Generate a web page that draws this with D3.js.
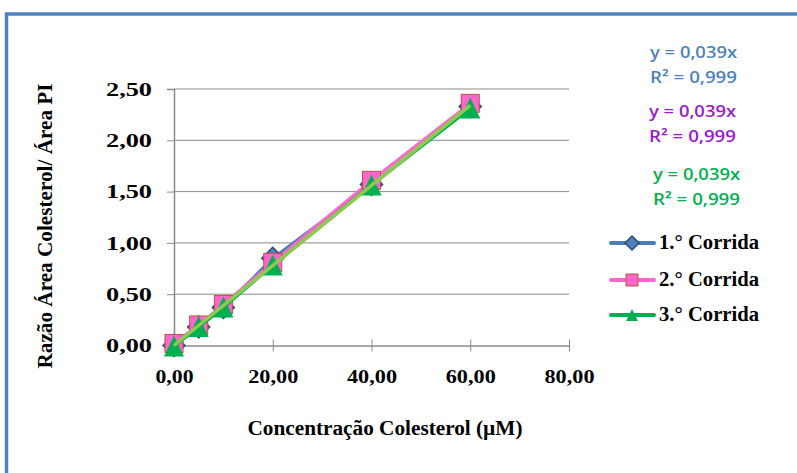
<!DOCTYPE html>
<html>
<head>
<meta charset="utf-8">
<script src="https://cdn.jsdelivr.net/npm/d3@7"></script>
<style>
  body { margin: 0; background: #fff; }
</style>
</head>
<body>
<div id="chart"></div>
<script>
// values
const concentrations = [0, 5, 10, 20, 40, 60];
const run1 = [0.00, 0.18, 0.37, 0.85, 1.57, 2.33];
const run2 = [0.02, 0.20, 0.40, 0.81, 1.61, 2.36];
const run3 = [-0.01, 0.18, 0.37, 0.78, 1.56, 2.31];
const seriesNames = ["1.° Corrida", "2.° Corrida", "3.° Corrida"];
const slope = 0.039;
const xTicks = [0, 20, 40, 60, 80];
const yTicks = [0, 0.5, 1, 1.5, 2, 2.5];
const equations = [
  {eq: "y = 0,039x", r2: "R² = 0,999", color: "#4F81BD"},
  {eq: "y = 0,039x", r2: "R² = 0,999", color: "#9A1ACC"},
  {eq: "y = 0,039x", r2: "R² = 0,999", color: "#00B050"}
];

const width = 797, height = 473;
const svg = d3.select("#chart").append("svg")
  .attr("width", width).attr("height", height);

// outer frame (only top and left show)
svg.append("rect")
  .attr("x", 6.5).attr("y", 14).attr("width", 900).attr("height", 600)
  .attr("fill", "none").attr("stroke", "#4F81BD").attr("stroke-width", 3.5);

const x = d3.scaleLinear().domain([0, 80]).range([174, 569]);
const y = d3.scaleLinear().domain([0, 2.5]).range([345.5, 89]);

const serif = "'Times New Roman', 'Liberation Serif', Tinos, serif";

// gridlines
svg.append("g").selectAll("line").data(yTicks.slice(1)).enter().append("line")
  .attr("x1", x(0)).attr("x2", x(80))
  .attr("y1", d => y(d)).attr("y2", d => y(d))
  .attr("stroke", "#8a8a8a").attr("stroke-width", 1);

// y axis
const fmt = d => d3.format(".2f")(d).replace(".", ",");
const yAxis = svg.append("g").attr("transform", `translate(${x(0)},0)`)
  .call(d3.axisLeft(y).tickValues(yTicks).tickSize(7).tickFormat(fmt));
yAxis.select(".domain").attr("stroke", "#8a8a8a").attr("stroke-width", 1.5);
yAxis.selectAll(".tick line").attr("stroke", "#8a8a8a");
yAxis.selectAll("text")
  .attr("x", -22).attr("dy", "0.35em")
  .attr("font-family", serif).attr("font-weight", "bold").attr("font-size", 18)
  .attr("fill", "#000")
  .attr("textLength", 46).attr("lengthAdjust", "spacingAndGlyphs");

// x axis
const xAxis = svg.append("g").attr("transform", `translate(0,${y(0)})`)
  .call(d3.axisBottom(x).tickValues(xTicks).tickSizeInner(6).tickSizeOuter(0).tickFormat(fmt));
xAxis.select(".domain").attr("stroke", "#8a8a8a").attr("stroke-width", 1.5);
xAxis.selectAll(".tick line").attr("y1", -6).attr("y2", 6).attr("stroke", "#8a8a8a");
xAxis.selectAll("text")
  .attr("y", 37).attr("dy", 0)
  .attr("font-family", serif).attr("font-weight", "bold").attr("font-size", 18)
  .attr("fill", "#000")
  .attr("textLength", d => d === 0 ? 38 : 50).attr("lengthAdjust", "spacingAndGlyphs");

// axis titles
svg.append("text")
  .attr("transform", `translate(52,226) rotate(-90)`)
  .attr("text-anchor", "middle")
  .attr("font-family", serif).attr("font-weight", "bold").attr("font-size", 20)
  .attr("textLength", 285).attr("lengthAdjust", "spacingAndGlyphs")
  .text("Razão Área Colesterol/ Área PI");

svg.append("text")
  .attr("x", 385).attr("y", 435)
  .attr("text-anchor", "middle")
  .attr("font-family", serif).attr("font-weight", "bold").attr("font-size", 20)
  .attr("textLength", 275).attr("lengthAdjust", "spacingAndGlyphs")
  .text("Concentração Colesterol (µM)");

// series
const series = [
  {name: seriesNames[0], values: run1, line: "#4A7EBB", fill: "#4F81BD", stroke: "#2C4D75", shape: d3.symbolDiamond},
  {name: seriesNames[1], values: run2, line: "#FF66CC", fill: "#FF66CC", stroke: "#C0504D", shape: d3.symbolSquare},
  {name: seriesNames[2], values: run3, line: "#00B050", fill: "#00B050", stroke: "#00B050", shape: d3.symbolTriangle}
];

const line = d3.line().x(d => x(d[0])).y(d => y(d[1]));

function marker(g, s, cx, cy) {
  if (s.shape === d3.symbolDiamond) {
    g.append("path")
      .attr("d", `M${cx},${cy - 11}L${cx + 11},${cy}L${cx},${cy + 11}L${cx - 11},${cy}Z`)
      .attr("fill", s.fill).attr("stroke", s.stroke).attr("stroke-width", 1.5);
  } else if (s.shape === d3.symbolSquare) {
    g.append("rect")
      .attr("x", cx - 9).attr("y", cy - 9).attr("width", 18).attr("height", 18)
      .attr("fill", s.fill).attr("stroke", s.stroke).attr("stroke-width", 1);
  } else {
    g.append("path")
      .attr("d", `M${cx},${cy - 11}L${cx + 10},${cy + 10}L${cx - 10},${cy + 10}Z`)
      .attr("fill", s.fill);
  }
}

series.forEach(s => {
  const pts = concentrations.map((c, i) => [c, s.values[i]]);
  svg.append("path").datum(pts)
    .attr("d", line).attr("fill", "none")
    .attr("stroke", s.line).attr("stroke-width", 3);
  const g = svg.append("g");
  pts.forEach(p => marker(g, s, x(p[0]), y(p[1])));
});

// linear trend lines y = 0.039x
series.forEach((s, i) => {
  svg.append("path").datum([[0, 0], [60, slope * 60]])
    .attr("d", line).attr("fill", "none")
    .attr("stroke", i === 2 ? "#8DCB4E" : s.line)
    .attr("stroke-width", i === 2 ? 3.5 : 2)
    .attr("opacity", i === 2 ? 1 : 0.6);
});

// equations
const sans = "'Open Sans', 'Noto Sans', sans-serif";
const eqY = [58, 117, 180];
const eqX = [650, 649, 653];
equations.forEach((e, i) => {
  svg.append("text").attr("x", eqX[i]).attr("y", eqY[i])
    .attr("font-family", sans).attr("font-weight", 600).attr("font-size", 16).attr("fill", e.color)
    .attr("textLength", 87).attr("lengthAdjust", "spacingAndGlyphs")
    .text(e.eq);
  svg.append("text").attr("x", eqX[i]).attr("y", eqY[i] + 25)
    .attr("font-family", sans).attr("font-weight", 600).attr("font-size", 16).attr("fill", e.color)
    .attr("textLength", 87).attr("lengthAdjust", "spacingAndGlyphs")
    .text(e.r2);
});

// legend
const legY = [243, 280, 315];
series.forEach((s, i) => {
  const g = svg.append("g");
  g.append("line").attr("x1", 611).attr("x2", 654)
    .attr("y1", legY[i]).attr("y2", legY[i])
    .attr("stroke", s.line).attr("stroke-width", 4).attr("stroke-linecap", "round");
  if (i === 0) {
    g.append("path")
      .attr("d", `M632,${legY[i] - 7}L639,${legY[i]}L632,${legY[i] + 7}L625,${legY[i]}Z`)
      .attr("fill", s.fill).attr("stroke", s.stroke).attr("stroke-width", 1.5);
  } else if (i === 1) {
    g.append("rect").attr("x", 626).attr("y", legY[i] - 6).attr("width", 12).attr("height", 12)
      .attr("fill", s.fill).attr("stroke", s.stroke).attr("stroke-width", 1);
  } else {
    g.append("path")
      .attr("d", `M632,${legY[i] - 6}L638,${legY[i] + 6}L626,${legY[i] + 6}Z`)
      .attr("fill", s.fill);
  }
  g.append("text").attr("x", 659).attr("y", legY[i] + 6)
    .attr("font-family", serif).attr("font-weight", "bold").attr("font-size", 20)
    .attr("textLength", 100).attr("lengthAdjust", "spacingAndGlyphs")
    .text(s.name);
});
</script>
</body>
</html>
